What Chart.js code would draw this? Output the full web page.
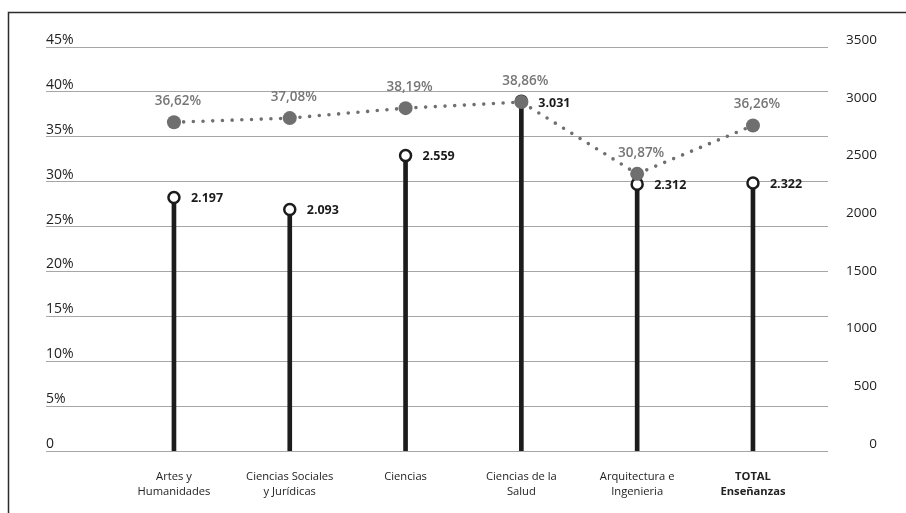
<!DOCTYPE html>
<html>
<head>
<meta charset="utf-8">
<script src="https://cdn.jsdelivr.net/npm/chart.js@4/dist/chart.umd.min.js"></script>
<style>
  html, body { margin: 0; padding: 0; background: #fff; }
  #wrap { width: 906px; height: 513px; position: relative; }
</style>
</head>
<body>
<div id="wrap"><canvas id="c" width="906" height="513"></canvas></div>
<script>
// Categories (multi-line labels) and series
const categories = [
  ['Artes y', 'Humanidades'],
  ['Ciencias Sociales', 'y Jurídicas'],
  ['Ciencias'],
  ['Ciencias de la', 'Salud'],
  ['Arquitectura e', 'Ingenieria'],
  ['TOTAL', 'Enseñanzas']
];
const students = [2197, 2093, 2559, 3031, 2312, 2322];
const rates = [36.62, 37.08, 38.19, 38.86, 30.87, 36.26];
const leftTicks = [0, 5, 10, 15, 20, 25, 30, 35, 40, 45];
const rightTicks = [0, 500, 1000, 1500, 2000, 2500, 3000, 3500];

const FONT = '"Open Sans", "Noto Sans", sans-serif';

function fmtThousands(v) {
  return String(v).replace(/\B(?=(\d{3})+(?!\d))/g, '.');
}
function fmtPct(v) {
  return v.toFixed(2).replace('.', ',') + '%';
}

// Outer frame (left and top edges)
const framePlugin = {
  id: 'frame',
  beforeDraw(chart) {
    const ctx = chart.ctx;
    ctx.save();
    ctx.strokeStyle = '#2b2b2b';
    ctx.lineWidth = 1.5;
    ctx.beginPath();
    ctx.moveTo(8.5, chart.height);
    ctx.lineTo(8.5, 12.5);
    ctx.lineTo(chart.width, 12.5);
    ctx.stroke();
    ctx.restore();
  }
};

// Value labels next to the lollipops and above the rate points
const labelPlugin = {
  id: 'valueLabels',
  afterDatasetsDraw(chart) {
    const ctx = chart.ctx;
    ctx.save();
    const heads = chart.getDatasetMeta(1).data;
    ctx.font = 'bold 12.5px ' + FONT;
    ctx.fillStyle = '#1a1a1a';
    ctx.textAlign = 'left';
    ctx.textBaseline = 'middle';
    heads.forEach((pt, i) => {
      const y = i === 3 ? chart.getDatasetMeta(2).data[i].y : pt.y;
      ctx.fillText(fmtThousands(students[i]), pt.x + 17, y + 1);
    });
    const pts = chart.getDatasetMeta(2).data;
    ctx.font = '600 13.5px ' + FONT;
    ctx.fillStyle = '#767676';
    ctx.textAlign = 'center';
    pts.forEach((pt, i) => {
      ctx.fillText(fmtPct(rates[i]), pt.x + 4, pt.y - 21);
    });
    ctx.restore();
  }
};

new Chart(document.getElementById('c'), {
  data: {
    datasets: [
      {
        type: 'bar',
        yAxisID: 'yR',
        data: students.map((v, i) => ({ x: i, y: v })),
        backgroundColor: '#1c1c1c',
        barThickness: 4,
        order: 3
      },
      {
        type: 'line',
        yAxisID: 'yR',
        data: students.map((v, i) => ({ x: i, y: v })),
        showLine: false,
        pointRadius: 5.5,
        pointBorderWidth: 2.5,
        pointBackgroundColor: '#ffffff',
        pointBorderColor: '#1c1c1c',
        order: 2
      },
      {
        type: 'line',
        yAxisID: 'yL',
        data: rates.map((v, i) => ({ x: i, y: v })),
        borderColor: '#6f6f6f',
        borderWidth: 3.6,
        borderDash: [0, 9.7],
        borderCapStyle: 'round',
        pointRadius: 7,
        pointBorderWidth: 0,
        pointBackgroundColor: '#6f6f6f',
        tension: 0,
        order: 1
      }
    ]
  },
  options: {
    responsive: false,
    animation: false,
    events: [],
    layout: { padding: { left: 46, right: 29, top: 47, bottom: 0 } },
    plugins: { legend: { display: false }, tooltip: { enabled: false } },
    scales: {
      x: {
        type: 'linear',
        offset: false,
        min: -1.105,
        max: 5.648,
        afterBuildTicks(scale) {
          scale.ticks = categories.map((_, i) => ({ value: i }));
        },
        afterFit(scale) { scale.height = 62; },
        grid: { display: false, drawTicks: false },
        border: { display: false },
        ticks: {
          autoSkip: false,
          maxRotation: 0,
          padding: 19,
          color: '#222',
          font: (ctx) => ({
            family: FONT,
            size: 11.2,
            lineHeight: 1.27,
            weight: ctx.index === 5 ? 'bold' : 'normal'
          }),
          callback: (v) => categories[v]
        }
      },
      yL: {
        type: 'linear',
        position: 'left',
        min: 0,
        max: 45,
        afterBuildTicks(scale) {
          scale.ticks = leftTicks.map(v => ({ value: v }));
        },
        afterFit(scale) { scale.width = 0; },
        grid: { color: '#a6a6a6', lineWidth: 1, drawTicks: false },
        border: { display: false },
        ticks: {
          mirror: true,
          padding: 0,
          labelOffset: -7,
          color: '#222',
          font: { family: FONT, size: 14 },
          callback: (v) => v === 0 ? '0' : v + '%'
        }
      },
      yR: {
        type: 'linear',
        position: 'right',
        min: 0,
        max: 3500,
        afterBuildTicks(scale) {
          scale.ticks = rightTicks.map(v => ({ value: v }));
        },
        afterFit(scale) { scale.width = 49; },
        grid: { display: false, drawTicks: false },
        border: { display: false },
        ticks: {
          crossAlign: 'far',
          labelOffset: -7,
          color: '#222',
          font: { family: FONT, size: 13.5 },
          callback: (v) => String(v)
        }
      }
    }
  },
  plugins: [framePlugin, labelPlugin]
});
</script>
</body>
</html>
